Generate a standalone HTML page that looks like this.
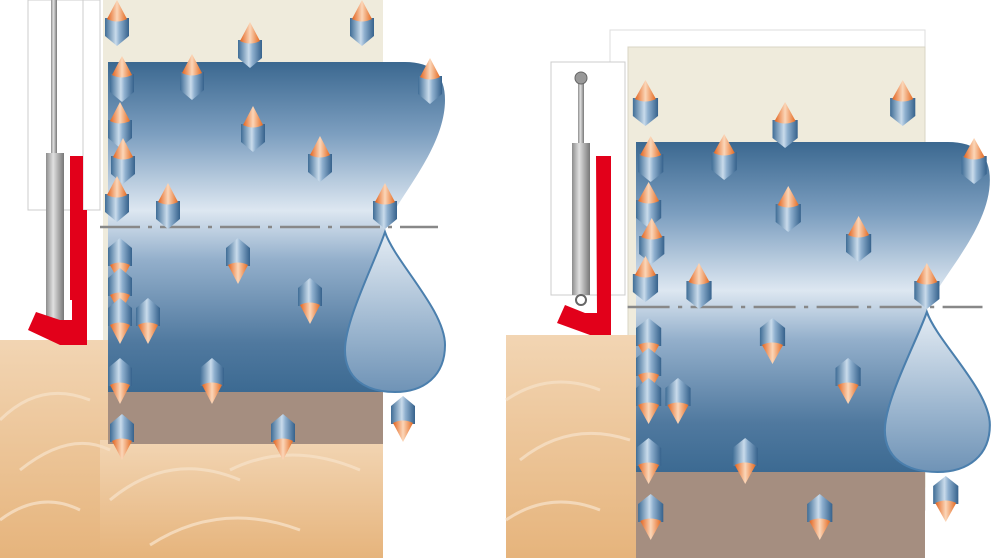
<!DOCTYPE html>
<html><head><meta charset="utf-8"><style>html,body{margin:0;padding:0;background:#fff}svg{display:block}</style></head>
<body>
<svg width="992" height="558" viewBox="0 0 992 558" xmlns="http://www.w3.org/2000/svg">
<defs>
<linearGradient id="drum" x1="0" y1="0" x2="0" y2="1">
<stop offset="0" stop-color="#3b6890"/><stop offset="0.22" stop-color="#7d9fc0"/><stop offset="0.45" stop-color="#dde7f1"/><stop offset="0.6" stop-color="#93afcb"/><stop offset="0.85" stop-color="#50799f"/><stop offset="1" stop-color="#3c6a92"/>
</linearGradient>
<linearGradient id="drop" x1="0" y1="0" x2="0" y2="1">
<stop offset="0" stop-color="#e4ecf4"/><stop offset="0.6" stop-color="#9cb6cf"/><stop offset="1" stop-color="#6f93b6"/>
</linearGradient>
<linearGradient id="body" x1="0" y1="0" x2="1" y2="0">
<stop offset="0" stop-color="#3f6d96"/><stop offset="0.45" stop-color="#c9dbeb"/><stop offset="0.6" stop-color="#8fb0cf"/><stop offset="1" stop-color="#36628c"/>
</linearGradient>
<linearGradient id="cone" x1="0" y1="0" x2="1" y2="0">
<stop offset="0" stop-color="#e2631e"/><stop offset="0.5" stop-color="#fbd6b8"/><stop offset="1" stop-color="#e46a22"/>
</linearGradient>
<linearGradient id="sand" x1="0" y1="0" x2="0" y2="1">
<stop offset="0" stop-color="#f2d5b3"/><stop offset="1" stop-color="#e6b47c"/>
</linearGradient>
<linearGradient id="cyl" x1="0" y1="0" x2="1" y2="0">
<stop offset="0" stop-color="#8d8d8d"/><stop offset="0.4" stop-color="#e0e0e0"/><stop offset="1" stop-color="#777"/>
</linearGradient>
<g id="pu">
<path d="M-12,-4 L12,-4 L12,14 L0,24 L-12,14 Z" fill="url(#body)"/>
<path d="M0,-22 L10,-3 Q0,2 -10,-3 Z" fill="url(#cone)"/>
</g>
<g id="pd">
<path d="M-12,4 L12,4 L12,-14 L0,-24 L-12,-14 Z" fill="url(#body)"/>
<path d="M0,22 L10,3 Q0,-2 -10,3 Z" fill="url(#cone)"/>
</g>
<g id="drumg">
<path d="M108,62 H405 Q445,62 445,100 C445,150 395,200 385,230 C375,260 345,320 345,350 C345,378 365,392 395,392 H108 Z" fill="url(#drum)"/>
<path d="M385,232 C395,262 445,310 445,345 C445,375 425,392 395,392 C365,392 345,378 345,350 C345,320 375,262 385,232 Z" fill="url(#drop)" stroke="#4b7fad" stroke-width="2"/>
<line x1="100" y1="227" x2="438" y2="227" stroke="#888" stroke-width="2.5" stroke-dasharray="40,8,4,8"/>
<use href="#pu" x="117" y="22"/><use href="#pu" x="250" y="44"/><use href="#pu" x="362" y="22"/>
<use href="#pu" x="430" y="80"/><use href="#pu" x="122" y="78"/><use href="#pu" x="192" y="76"/>
<use href="#pu" x="253" y="128"/><use href="#pu" x="320" y="158"/><use href="#pu" x="120" y="124"/>
<use href="#pu" x="123" y="160"/><use href="#pu" x="117" y="198"/><use href="#pu" x="168" y="205"/>
<use href="#pu" x="385" y="205"/>
<use href="#pd" x="238" y="262"/><use href="#pd" x="310" y="302"/><use href="#pd" x="120" y="262"/>
<use href="#pd" x="120" y="292"/><use href="#pd" x="148" y="322"/><use href="#pd" x="120" y="322"/>
<use href="#pd" x="212" y="382"/><use href="#pd" x="120" y="382"/><use href="#pd" x="283" y="438"/>
<use href="#pd" x="122" y="438"/><use href="#pd" x="403" y="420"/>
</g>
</defs>

<!-- LEFT PANEL -->
<rect x="103" y="0" width="280" height="400" fill="#efebdc"/>
<rect x="0" y="340" width="110" height="218" fill="url(#sand)"/>
<rect x="100" y="440" width="283" height="118" fill="url(#sand)"/>
<g fill="none" stroke="#f6e0c6" stroke-width="3" opacity="0.8">
<path d="M0,420 Q40,380 90,400"/><path d="M20,470 Q70,430 110,450"/><path d="M0,520 Q40,490 80,510"/>
<path d="M110,500 Q170,450 240,480"/><path d="M230,470 Q290,440 360,470"/><path d="M150,545 Q220,500 300,530"/>
</g>
<rect x="108" y="392" width="275" height="52" fill="#a58e80"/>
<rect x="28" y="0" width="72" height="210" fill="#fff" stroke="#ccc"/>
<line x1="83" y1="0" x2="83" y2="210" stroke="#ccc"/>
<rect x="51" y="0" width="6" height="155" fill="url(#cyl)"/>
<rect x="46" y="153" width="18" height="168" fill="url(#cyl)"/>
<circle cx="55" cy="327" r="5" fill="#fff" stroke="#666" stroke-width="2"/>
<path d="M70,156 H83 V210 H87 V345 L60,345 L28,330 L36,312 L60,320 H72 V300 H70 Z" fill="#e2001a"/>
<use href="#drumg"/>

<!-- RIGHT PANEL -->
<rect x="610" y="30" width="315" height="480" fill="#fff" stroke="#ddd"/>
<rect x="628" y="47" width="297" height="440" fill="#efebdc" stroke="#d8d4c4"/>
<rect x="551" y="62" width="74" height="233" fill="#fff" stroke="#ccc"/>
<rect x="506" y="335" width="130" height="223" fill="url(#sand)"/>
<g fill="none" stroke="#f6e0c6" stroke-width="3" opacity="0.8">
<path d="M506,400 Q550,370 600,390"/><path d="M520,460 Q570,420 630,440"/><path d="M506,520 Q550,490 600,510"/>
</g>
<rect x="636" y="472" width="289" height="86" fill="#a58e80"/>
<rect x="578" y="80" width="6" height="65" fill="url(#cyl)"/>
<circle cx="581" cy="78" r="6" fill="#999" stroke="#666"/>
<rect x="572" y="143" width="18" height="152" fill="url(#cyl)"/>
<circle cx="581" cy="300" r="5" fill="#fff" stroke="#666" stroke-width="2"/>
<path d="M596,156 H611 V335 L590,335 L557,323 L565,305 L585,313 H597 Z" fill="#e2001a"/>
<g transform="translate(636,80) scale(1.05,1) translate(-108,0)"><use href="#drumg"/></g>
</svg>
</body></html>
